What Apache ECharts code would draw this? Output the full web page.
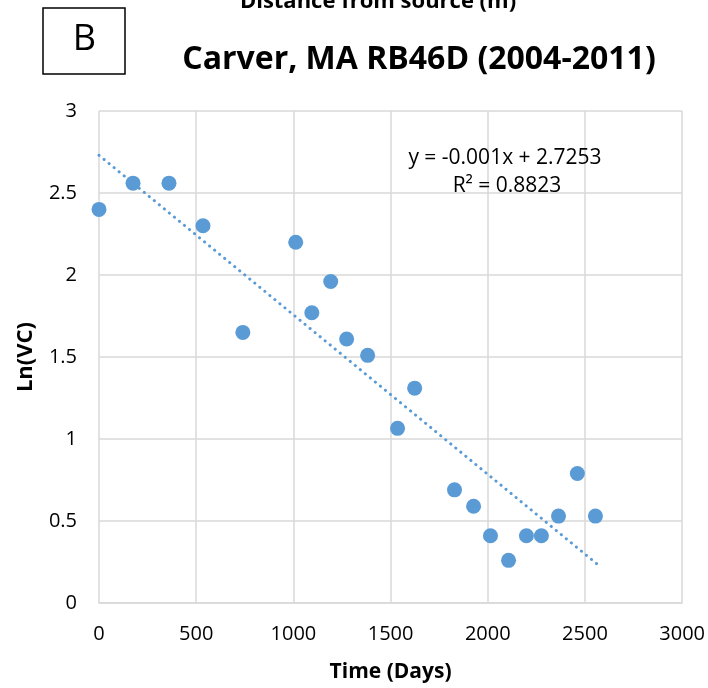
<!DOCTYPE html>
<html><head><meta charset="utf-8">
<script src="https://cdn.jsdelivr.net/npm/echarts@6/dist/echarts.min.js"></script>
<style>html,body{margin:0;padding:0;background:#fff}#c{width:708px;height:688px}</style>
</head><body><div id="c"></div>
<script>
var timeDays = [0, 175, 360, 535, 740, 1012, 1095, 1192, 1274, 1382, 1536, 1624, 1829, 1927, 2014, 2107, 2199, 2276, 2364, 2461, 2554];
var lnVC = [2.40, 2.56, 2.56, 2.30, 1.65, 2.20, 1.77, 1.96, 1.61, 1.51, 1.065, 1.31, 0.69, 0.59, 0.41, 0.26, 0.41, 0.41, 0.53, 0.79, 0.53];
var trendX = [0, 2560];
var trendY = [2.73, 0.24];
var xTicks = [0, 500, 1000, 1500, 2000, 2500, 3000];
var yTicks = [0, 0.5, 1, 1.5, 2, 2.5, 3];
var titleText = 'Carver, MA RB46D (2004-2011)';
var topText = 'Distance from source (m)';
var panelLetter = 'B';
var eqText = 'y = -0.001x + 2.7253';
var r2Text = 'R² = 0.8823';
var xName = 'Time (Days)';
var yName = 'Ln(VC)';

var FONT = '"Open Sans", sans-serif';
var pts = timeDays.map(function(t, i){ return [t, lnVC[i]]; });
var trend = trendX.map(function(t, i){ return [t, trendY[i]]; });

var chart = echarts.init(document.getElementById('c'), null, {renderer: 'canvas'});
chart.setOption({
  animation: false,
  backgroundColor: '#fff',
  textStyle: {fontFamily: FONT},
  graphic: [
    {type: 'text', x: 378, y: 13, style: {text: topText, font: 'bold 22px ' + FONT, fill: '#000', textAlign: 'center', textVerticalAlign: 'bottom'}},
    {type: 'text', x: 419, y: 60, style: {text: titleText, font: 'bold 32px ' + FONT, fill: '#000', textAlign: 'center', textVerticalAlign: 'middle'}},
    {type: 'rect', shape: {x: 43, y: 8, width: 82, height: 66}, style: {fill: '#fff', stroke: '#000', lineWidth: 1.5}},
    {type: 'text', x: 84.5, y: 40, style: {text: panelLetter, font: '36px ' + FONT, fill: '#000', textAlign: 'center', textVerticalAlign: 'middle'}},
    {type: 'text', x: 505, y: 158, style: {text: eqText, font: '21px ' + FONT, fill: '#000', textAlign: 'center', textVerticalAlign: 'middle'}, z: 10},
    {type: 'text', x: 507, y: 186, style: {text: r2Text, font: '21px ' + FONT, fill: '#000', textAlign: 'center', textVerticalAlign: 'middle'}, z: 10}
  ],
  grid: {left: 99, right: 25, top: 111, bottom: 85, containLabel: false},
  xAxis: {
    type: 'value', min: 0, max: 3000, interval: 500,
    name: xName, nameLocation: 'middle', nameGap: 59,
    nameTextStyle: {fontFamily: FONT, fontWeight: 'bold', fontSize: 21, color: '#000'},
    axisLine: {show: true, lineStyle: {color: '#d9d9d9', width: 1.5}},
    axisTick: {show: false},
    axisLabel: {fontFamily: FONT, fontSize: 20, color: '#000', margin: 21,
      formatter: function(v){ return xTicks.indexOf(v) >= 0 ? String(v) : ''; }},
    splitLine: {show: true, lineStyle: {color: '#d9d9d9', width: 1.5}}
  },
  yAxis: {
    type: 'value', min: 0, max: 3, interval: 0.5,
    name: yName, nameLocation: 'middle', nameGap: 62, nameRotate: 90,
    nameTextStyle: {fontFamily: FONT, fontWeight: 'bold', fontSize: 22, color: '#000'},
    axisLine: {show: false},
    axisTick: {show: false},
    axisLabel: {fontFamily: FONT, fontSize: 20, color: '#000', margin: 22,
      formatter: function(v){ return yTicks.indexOf(v) >= 0 ? String(v) : ''; }},
    splitLine: {show: true, lineStyle: {color: '#d9d9d9', width: 1.5}}
  },
  series: [
    {type: 'line', data: trend, showSymbol: false, symbol: 'none',
     lineStyle: {color: '#5b9bd5', width: 3, type: [0.1, 6.4], cap: 'round'}, z: 2},
    {type: 'scatter', data: pts, symbolSize: 15,
     itemStyle: {color: '#5b9bd5', opacity: 1}, z: 3}
  ]
});
</script></body></html>
